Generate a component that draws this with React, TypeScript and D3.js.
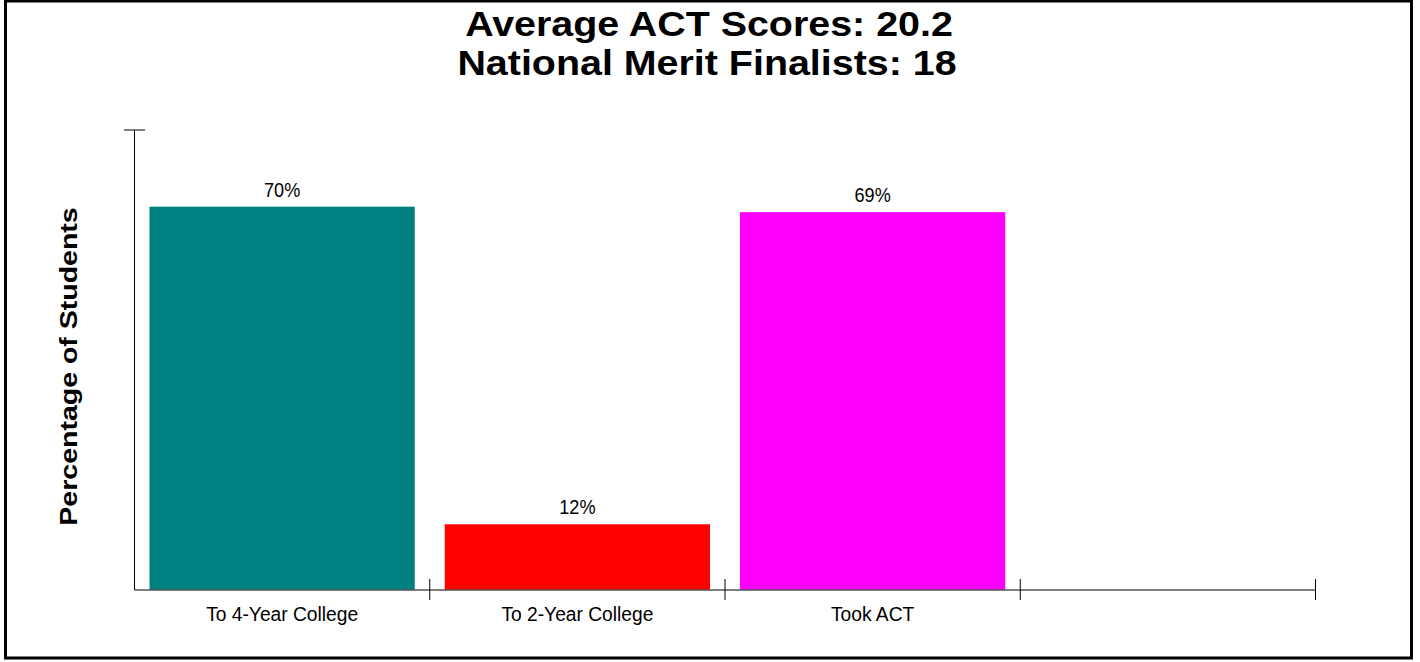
import React from "react";
import * as d3 from "d3";

const categories = ["To 4-Year College", "To 2-Year College", "Took ACT", ""];
const values = [70, 12, 69, null];
const valueLabels = ["70%", "12%", "69%", ""];
const colors = ["#008080", "#FF0000", "#FF00FF", "none"];
const titleLines = ["Average ACT Scores: 20.2", "National Merit Finalists: 18"];
const yAxisTitle = "Percentage of Students";

const W = 1420;
const H = 662;
const FONT = "'Liberation Sans', Arial, sans-serif";

export default function App() {
  const x0 = 134.5;
  const x1 = 1315.5;
  const yBase = 590;
  const yTop = 130;
  const x = d3.scaleBand<string>().domain(categories.map((c, i) => String(i))).range([x0, x1]).paddingInner(0).paddingOuter(0);
  const y = d3.scaleLinear().domain([0, 84]).range([yBase, yTop]);
  const bw = x.bandwidth();
  const barPad = 15;

  return (
    <div style={{ position: "fixed", left: 0, top: 0 }}>
      <svg width={W} height={H} style={{ display: "block", background: "#fff" }}>
        <rect x={5.5} y={1} width={1406} height={657} fill="#fff" stroke="#000" strokeWidth={3} />
        {titleLines.map((t, i) => (
          <g key={i} transform={`translate(${i === 0 ? 709 : 707},${35.5 + i * 39}) scale(1.11,1)`}>
            <text x={0} y={0} textAnchor="middle" fontFamily={FONT} fontWeight="bold" fontSize={35.5} fill="#000">
              {t}
            </text>
          </g>
        ))}
        {values.map((v, i) =>
          v == null ? null : (
            <g key={i}>
              <rect x={(x(String(i)) as number) + barPad} y={y(v)} width={bw - barPad * 2} height={yBase - y(v)} fill={colors[i]} />
              <g transform={`translate(${(x(String(i)) as number) + bw / 2},${y(v) - 10}) scale(0.93,1)`}>
                <text x={0} y={0} textAnchor="middle" fontFamily={FONT} fontSize={19.5} fill="#000">
                  {valueLabels[i]}
                </text>
              </g>
            </g>
          )
        )}
        {/* y axis */}
        <line x1={x0} x2={x0} y1={yTop} y2={yBase} stroke="#000" strokeWidth={1} />
        <line x1={124} x2={145} y1={yTop} y2={yTop} stroke="#555" strokeWidth={1.5} />
        {/* x axis */}
        <line x1={x0} x2={x1} y1={yBase} y2={yBase} stroke="#555" strokeWidth={1.5} />
        {categories.map((c, i) => {
          const xe = (x(String(i)) as number) + bw;
          return <line key={"t" + i} x1={xe} x2={xe} y1={yBase - 11} y2={yBase + 10} stroke="#000" strokeWidth={1} />;
        })}
        {categories.map((c, i) => (
          <g key={"c" + i} transform={`translate(${(x(String(i)) as number) + bw / 2},621) scale(0.915,1)`}>
            <text x={0} y={0} textAnchor="middle" fontFamily={FONT} fontSize={21} fill="#000">
              {c}
            </text>
          </g>
        ))}
        <g transform={`translate(76.5,366.5) rotate(-90) scale(1.24,1)`}>
          <text x={0} y={0} textAnchor="middle" fontFamily={FONT} fontWeight="bold" fontSize={23} fill="#000">
            {yAxisTitle}
          </text>
        </g>
      </svg>
    </div>
  );
}
